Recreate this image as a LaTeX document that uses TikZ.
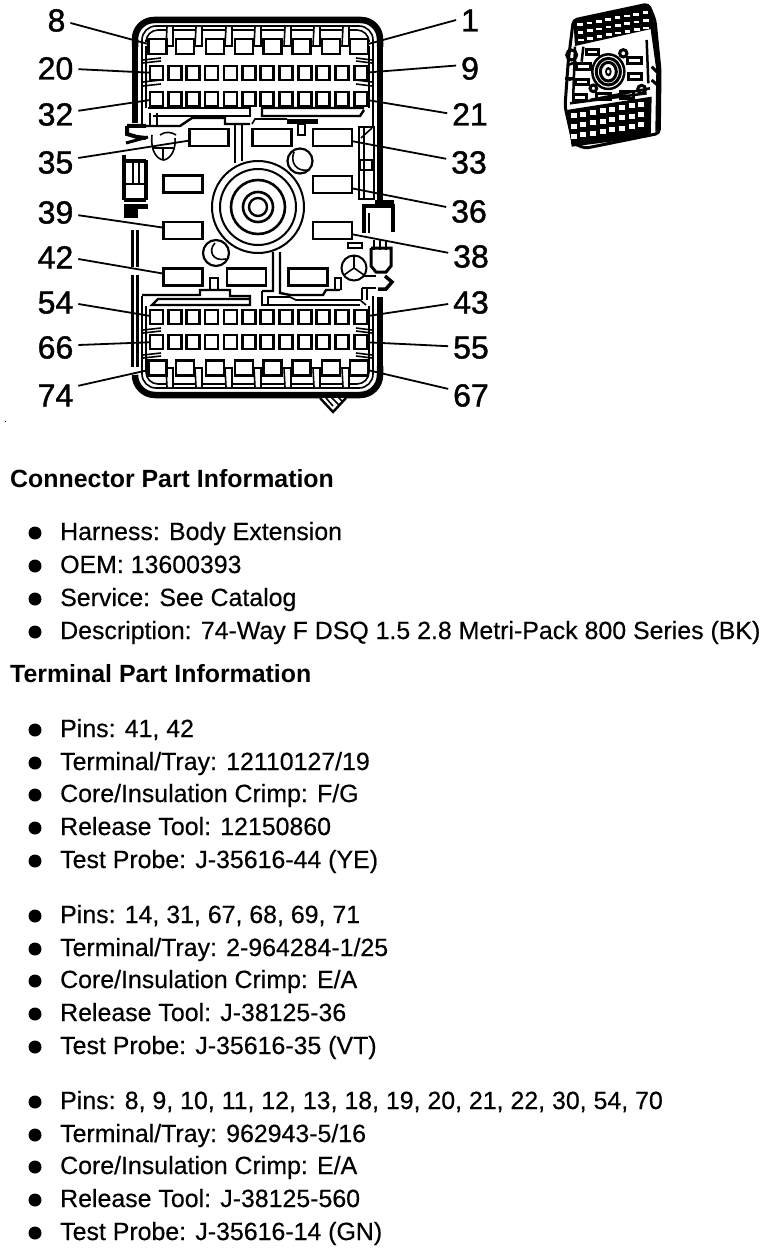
\documentclass[tikz,border=0pt]{standalone}
\usepackage{fontspec}
\setmainfont{Liberation Sans}
\newfontfamily\numfont[FakeBold=1.2]{Liberation Sans}
\newfontfamily\bodyfont[FakeBold=0.4]{Liberation Sans}
\tikzset{
  pin/.style={draw=black,fill=white,line width=2.2pt,minimum width=#1,minimum height=14pt,inner sep=0pt,outer sep=0pt,rectangle},
  cav/.style={draw=black,fill=white,line width=2.4pt,minimum width=39pt,minimum height=17pt,inner sep=0pt,outer sep=0pt,rectangle},
  num/.style={font=\numfont\fontsize{32}{32}\selectfont,text height=23pt,text depth=0pt,inner sep=0pt,outer sep=5pt},
  leader/.style={line width=1.8pt,black},
  body/.style={font=\bodyfont\fontsize{24.9}{25}\selectfont,anchor=base west,inner sep=0pt},
  head/.style={font=\bfseries\fontsize{24.9}{25}\selectfont,anchor=base west,inner sep=0pt},
  bul/.style={circle,fill=black,minimum size=13pt,inner sep=0pt},
  ln/.style={line width=1.6pt,black},
  thk/.style={line width=2.4pt,black},
  wall/.style={line width=6.5pt,black},
  tm/.style={line width=1.6pt,black}
}
\begin{document}
\begin{tikzpicture}[x=1pt,y=-1pt]
\useasboundingbox (0,0) rectangle (768,1252);
\fill[white] (0,0) rectangle (768,1252);
% outer housing
\draw[wall,rounded corners=19pt] (135,47) -- (135,20) -- (380,20) -- (380,47);
\draw[wall] (135,46) -- (135,123);
\draw[wall] (380,44) -- (380,200);
\draw[wall,rounded corners=20pt] (135,376) -- (135,395) -- (380,395) -- (380,366);
\draw[wall] (380,297) -- (380,368);
\foreach \a/\b in {230/267,275/367}{
  \draw[thk] (132.5,\a) -- (132.5,\b); \draw[thk] (137.5,\a) -- (137.5,\b);
}
\draw[ln,rounded corners=14pt] (142,40) -- (142,26) -- (373,26) -- (373,40);
\draw[ln,rounded corners=12pt] (146,40) -- (146,30) -- (369,30) -- (369,40);
\draw[ln] (142,40) -- (142,126); \draw[ln] (146,46) -- (146,108);
\draw[ln] (373,40) -- (373,126); \draw[ln] (369,46) -- (369,108);
\draw[ln,rounded corners=14pt] (142,372) -- (142,388) -- (373,388) -- (373,372);
\draw[ln,rounded corners=12pt] (146,372) -- (146,384) -- (369,384) -- (369,372);
\draw[ln] (142,296) -- (142,372); \draw[ln] (146,306) -- (146,372);
\draw[ln] (373,296) -- (373,372); \draw[ln] (369,306) -- (369,372);
% tabs
\foreach \x in {170,199,229,258,288,317,346}{
  \draw[ln,fill=white] (\x-3,27) -- (\x-4,46) -- (\x+3,46) -- (\x+3,27);
  \draw[ln,fill=white] (\x-3,387) -- (\x-4,368) -- (\x+3,368) -- (\x+3,387);
}
% wedges
\foreach \y in {59,62,81,85,329,332,354,357}{
  \draw[ln] (143,\y+1) -- (161,\y-1);
  \draw[ln] (372,\y+1) -- (356,\y-1);
}
% upper frame
\draw[thk] (148,108) -- (250,108) -- (250,116) -- (153,116);
\draw[thk] (364,108) -- (262,108) -- (262,116) -- (360,116) -- (364,110);
\draw[ln] (150,113) -- (150,126) (157,113) -- (157,126);
\draw[thk] (142,126) -- (180,126) -- (192,118) -- (225,118) -- (225,124) -- (250,124);
\draw[ln] (252,124) -- (255,119) -- (287,119);
\fill[black] (287,119) rectangle (318,124);
\draw[ln] (298,124) rectangle (305,135);
% lower frame
\draw[thk] (142,295) -- (200,295) -- (200,290) -- (230,290) -- (230,296) -- (250,296) -- (250,305) -- (152,305) -- (158,299) -- (250,299);
\draw[ln] (210,290) -- (210,278) -- (218,278) -- (218,290);
\draw[thk] (262,291) -- (262,305) -- (360,305);
\draw[thk] (262,291) -- (273,291) -- (273,252) (280,252) -- (280,293) -- (290,295) -- (323,295) -- (326,290) -- (340,290);
\draw[ln] (268,305) -- (268,297) -- (290,297) -- (296,300) -- (360,300) -- (366,305);
\draw[ln] (335,290) -- (335,278) -- (341,278) -- (341,290);
% circles
\draw[line width=2pt] (258,207) circle[radius=46pt];
\draw[line width=2pt] (258,207) circle[radius=38pt];
\draw[line width=2.6pt] (258,207) circle[radius=27pt];
\draw[line width=2.6pt] (258,207) circle[radius=15pt];
\draw[line width=2.4pt] (258,207) circle[radius=9pt];
\draw[thk] (235,124) -- (235,163) (242,124) -- (242,161);
\draw[line width=2.2pt] (300,161) circle[radius=12.5pt];
\draw[ln] (294,152) .. controls (290,162) and (296,172) .. (308,170);
\draw[line width=2.2pt] (216,253) circle[radius=13pt];
\draw[ln] (215,243) .. controls (208,250) and (212,262) .. (226,259);
\draw[line width=2pt] (354,268) circle[radius=12.5pt];
\draw[ln] (354,256) -- (354,268) -- (344,275) (354,268) -- (364,275);
% left accessories
\draw[line width=4pt] (127,126) -- (146,126) (127,126) -- (127,134) -- (137,137) -- (146,138);
\draw[line width=3pt] (126,143) -- (148,137);
\draw[ln] (152,135) .. controls (150,152) and (158,160) .. (164,160) .. controls (172,158) and (176,148) .. (175,138);
\draw[ln] (152,148) -- (175,148) (163,148) -- (163,160);
\draw[ln] (160,135) .. controls (165,131) and (172,132) .. (176,135);
\draw[line width=3.5pt] (124,155) -- (124,200) (146,160) -- (146,200) (124,161) -- (146,161);
\draw[line width=2.5pt] (133,161) -- (133,184) (139,161) -- (139,184);
\draw[line width=2.5pt] (124,184) -- (146,184);
\draw[line width=3.5pt] (124,200) -- (146,200);
\fill[black] (124,204) rectangle (148,209);
\fill[black] (124,209) rectangle (138,218);
% right accessories
\draw[ln] (359,127) rectangle (374,199);
\draw[ln] (364,127) -- (364,199);
\draw[ln] (361,138) -- (372,128);
\draw[ln] (360,160) rectangle (372,170);
\draw[line width=3.5pt] (364,233) -- (364,206) -- (393,206) -- (393,232);
\fill[black] (375,200) rectangle (394,206);
\draw[ln] (369,233) -- (369,213);
\draw[ln] (348,243) rectangle (362,248);
\draw[line width=3pt] (371,248) -- (371,266) -- (376,272) -- (386,272) -- (391,266) -- (391,248) -- (371,248);
\draw[ln] (374,240) -- (374,250) (380,240) -- (380,250) (386,240) -- (386,250);
\draw[line width=3.5pt] (385,276) -- (392,282) -- (386,289) -- (378,289);
\draw[thk] (364,276) -- (376,276);
\draw[ln] (362,288) -- (362,300) (367,288) -- (367,300) (362,288) -- (376,288);
% nub
\draw[thk,fill=white] (320,398) -- (333,412) -- (346,398);
\draw[ln] (326,398) -- (333,406) (331,397) -- (339,405) (338,397) -- (343,402);
% pins
\foreach \n/\x in {8/157.5,7/185,6/215,5/244,4/272.5,3/301.5,2/331,1/359,
  74/157.5,73/185,72/215,71/244,70/272.5,69/301.5,68/331,67/359}{
  \pgfmathsetmacro{\yy}{\n>60 ? 368 : 46.5}
  \node[pin=18pt,minimum height=15pt] (p\n) at (\x,\yy) {};
}
\foreach \i/\x in {0/156.5,1/175,2/193,3/211.5,4/230.5,5/249,6/267,7/286,8/305,9/323,10/342,11/361}{
  \pgfmathtruncatemacro{\a}{20-\i}\node[pin=13pt] (p\a) at (\x,73) {};
  \pgfmathtruncatemacro{\b}{32-\i}\node[pin=13pt] (p\b) at (\x,99) {};
  \pgfmathtruncatemacro{\c}{54-\i}\node[pin=13pt] (p\c) at (\x,317) {};
  \pgfmathtruncatemacro{\d}{66-\i}\node[pin=13pt] (p\d) at (\x,342) {};
}
% cavities
\node[cav] (p35) at (209,137.5) {};
\node[cav] (c34) at (272,137.5) {};
\node[cav] (p33) at (332.5,137.5) {};
\node[cav] (c37) at (183,184) {};
\node[cav] (p36) at (332.5,184.5) {};
\node[cav] (p39) at (183,230.5) {};
\node[cav] (p38) at (332.5,230.5) {};
\node[cav] (p42) at (183,277) {};
\node[cav] (c41) at (246.5,277) {};
\node[cav] (c40) at (308,277) {};
% labels
\foreach \n/\x/\y in {8/56.5/20,20/55.5/68,32/55.5/114,35/55.5/162,39/55.5/212,42/55.5/257,54/55.5/302,66/55.5/347,74/55.5/395,
  1/470/20,9/470/68,21/470/114,33/469/162,36/469/211,38/471/256,43/471/302,55/471/347,67/471/395}{
  \node[num] (l\n) at (\x,\y) {\n};
}
% leaders
\foreach \n/\a in {8/-12,20/-3,32/8,35/10,39/-8,42/-5,54/-5,66/5,74/22,
  1/180,9/170,21/178,33/172,36/170,38/172,43/185,55/178,67/165}{
  \draw[leader] (l\n.\a) -- (p\n);
}
% thumbnail
\begin{scope}[shift={(540pt,0pt)},x=0.3333pt,y=-0.3333pt]
\draw[line width=3pt,fill=white,rounded corners=4pt] (100,60) -- (325,12) -- (345,60) -- (360,210) -- (358,400) -- (135,445) -- (100,430) -- (75,320) -- (85,180) -- cycle;
\fill[black] (100,60) -- (325,14) -- (342,85) -- (105,138) -- cycle;
\fill[black] (80,330) -- (335,290) -- (332,410) -- (95,440) -- cycle;
\foreach \r in {0,1,2}{\foreach \c in {0,...,7}{
  \fill[white] ({112+\c*28+\r*1},{70-\c*5.2+\r*23}) rectangle ++(17,8);
  \fill[white] ({92+\c*29},{340-\c*5+\r*31}) rectangle ++(18,15);
}}
\draw[line width=4pt] (330,30) -- (355,210) -- (352,395);
\draw[line width=2.5pt] (205,215) ellipse[x radius=48,y radius=52];
\draw[line width=3pt] (205,215) ellipse[x radius=36,y radius=40];
\draw[line width=3pt] (205,215) ellipse[x radius=24,y radius=28];
\fill[black] (205,215) ellipse[x radius=10,y radius=14];
\fill[white] (205,215) ellipse[x radius=4,y radius=6];
\foreach \p/\q/\r/\s in {140/150/175/165,263/172/305/190,110/190/150/210,265/222/305/240,105/240/145/255,100/285/140/302,170/280/210/298,240/275/280/295}{
  \draw[line width=3pt] (\p,\q) rectangle (\r,\s);
}
\draw[line width=3pt] (95,165) circle[radius=15];
\draw[line width=3pt] (250,160) circle[radius=11];
\draw[line width=3pt] (160,265) circle[radius=10];
\draw[line width=3pt] (305,268) circle[radius=12];
\draw[line width=2.5pt] (85,195) -- (110,185) (85,240) -- (105,235) (90,310) -- (320,280) (320,120) -- (325,250) (105,140) -- (100,280) (130,140) -- (125,185) (150,300) -- (330,265);
\draw[line width=3pt] (75,235) -- (100,235);
\draw[line width=3pt] (335,200) -- (360,225) (335,240) -- (358,260);
\end{scope}
\fill[black] (5,421) rectangle (6,422);
% text
\node[head] (h1) at (10,487) {Connector Part Information};
\node[head] (h2) at (10,682) {Terminal Part Information};
\foreach \y/\txt in {540/{Harness: Body Extension},573/{OEM: 13600393},606/{Service: See Catalog},639/{Description: 74-Way F DSQ 1.5 2.8 Metri-Pack 800 Series (BK)},
  737/{Pins: 41, 42},770/{Terminal/Tray: 12110127/19},802/{Core/Insulation Crimp: F/G},835/{Release Tool: 12150860},868/{Test Probe: J-35616-44 (YE)},
  923/{Pins: 14, 31, 67, 68, 69, 71},956/{Terminal/Tray: 2-964284-1/25},988/{Core/Insulation Crimp: E/A},1021/{Release Tool: J-38125-36},1054/{Test Probe: J-35616-35 (VT)},
  1109/{Pins: 8, 9, 10, 11, 12, 13, 18, 19, 20, 21, 22, 30, 54, 70},1142/{Terminal/Tray: 962943-5/16},1174/{Core/Insulation Crimp: E/A},1207/{Release Tool: J-38125-560},1240/{Test Probe: J-35616-14 (GN)}}{
  \node[body] (t\y) at (60,\y) {\txt};
  \node[bul] (b\y) at (35,\y-7) {};
}
\end{tikzpicture}
\end{document}
